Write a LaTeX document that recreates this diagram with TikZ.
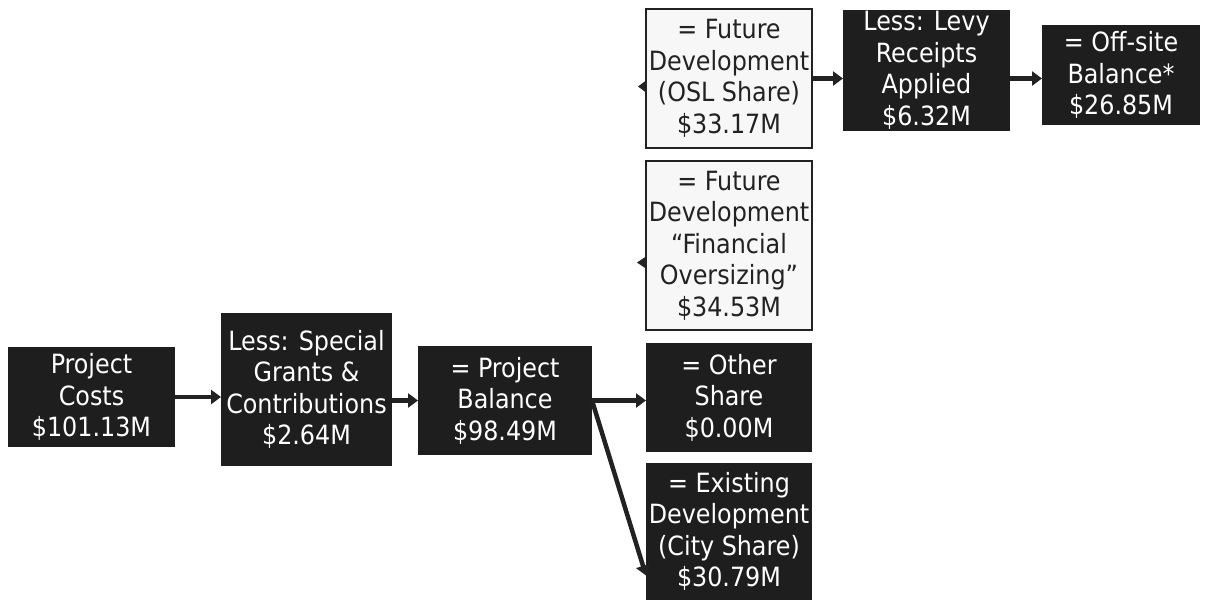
\documentclass[tikz,border=0pt]{standalone}
\usepackage{fontspec}
\setmainfont{DejaVu Sans Condensed}
\usetikzlibrary{arrows.meta}
\definecolor{boxdark}{HTML}{1E1E1E}
\definecolor{boxlight}{HTML}{F7F7F7}
\definecolor{ink}{HTML}{222222}
\begin{document}
\begin{tikzpicture}[x=1pt,y=-1pt,
  base/.style={inner sep=0pt, outer sep=0pt, align=center, font=\fontsize{26.5}{31.5}\selectfont},
  dark/.style={base, fill=boxdark, text=white},
  light/.style={base, fill=boxlight, draw=ink, line width=1.6pt, text=ink},
  arr/.style={draw=ink, line width=4.5pt, -{Triangle[length=10pt,width=14pt]}},
  tipmark/.style={fill=ink}]
\useasboundingbox (0,0) rectangle (1208,600);
\fill[white] (0,0) rectangle (1208,600);

\node[dark, minimum width=167pt, minimum height=100pt] (cost) at (91.5,397) {Project\\Costs\\\$101.13M};
\node[dark, minimum width=171pt, minimum height=153pt] (grant) at (306.5,389.5) {Less: Special\\Grants \&\\Contributions\\\$2.64M};
\node[dark, minimum width=174pt, minimum height=109pt] (bal) at (505,400.5) {= Project\\Balance\\\$98.49M};
\node[dark, minimum width=166pt, minimum height=109pt] (other) at (729,397.5) {= Other\\Share\\\$0.00M};
\node[dark, minimum width=166pt, minimum height=137pt] (exist) at (729,531.5) {= Existing\\Development\\(City Share)\\\$30.79M};
\node[light, minimum width=166pt, minimum height=169pt] (fin) at (729,245.5) {= Future\\Development\\“Financial\\Oversizing”\\\$34.53M};
\node[light, minimum width=166pt, minimum height=139pt] (osl) at (729,78.5) {= Future\\Development\\(OSL Share)\\\$33.17M};
\node[dark, minimum width=167pt, minimum height=121pt] (levy) at (926.5,70.5) {Less: Levy\\Receipts\\Applied\\\$6.32M};
\node[dark, minimum width=158pt, minimum height=100pt] (off) at (1121,75) {= Off-site\\Balance*\\\$26.85M};

\draw[arr] (cost.east) -- (cost.east -| grant.west);
\draw[arr] (bal.west -| grant.east) -- (bal.west);
\draw[arr] (bal.east) -- (bal.east -| other.west);
\draw[arr] (bal.east) -- ([yshift=-44pt]exist.west);
\draw[arr] (osl.east) -- (osl.east -| levy.west);
\draw[arr] (levy.east |- osl.east) -- (off.west |- osl.east);

\coordinate (m1) at ([yshift=-8pt]osl.west);
\coordinate (m2) at ([yshift=-17pt]fin.west);
\fill[tipmark] ([yshift=6pt]m1) -- ([xshift=-8pt]m1) -- ([yshift=-6pt]m1) -- cycle;
\fill[tipmark] ([yshift=6pt]m2) -- ([xshift=-9pt]m2) -- ([yshift=-6pt]m2) -- cycle;
\end{tikzpicture}
\end{document}
